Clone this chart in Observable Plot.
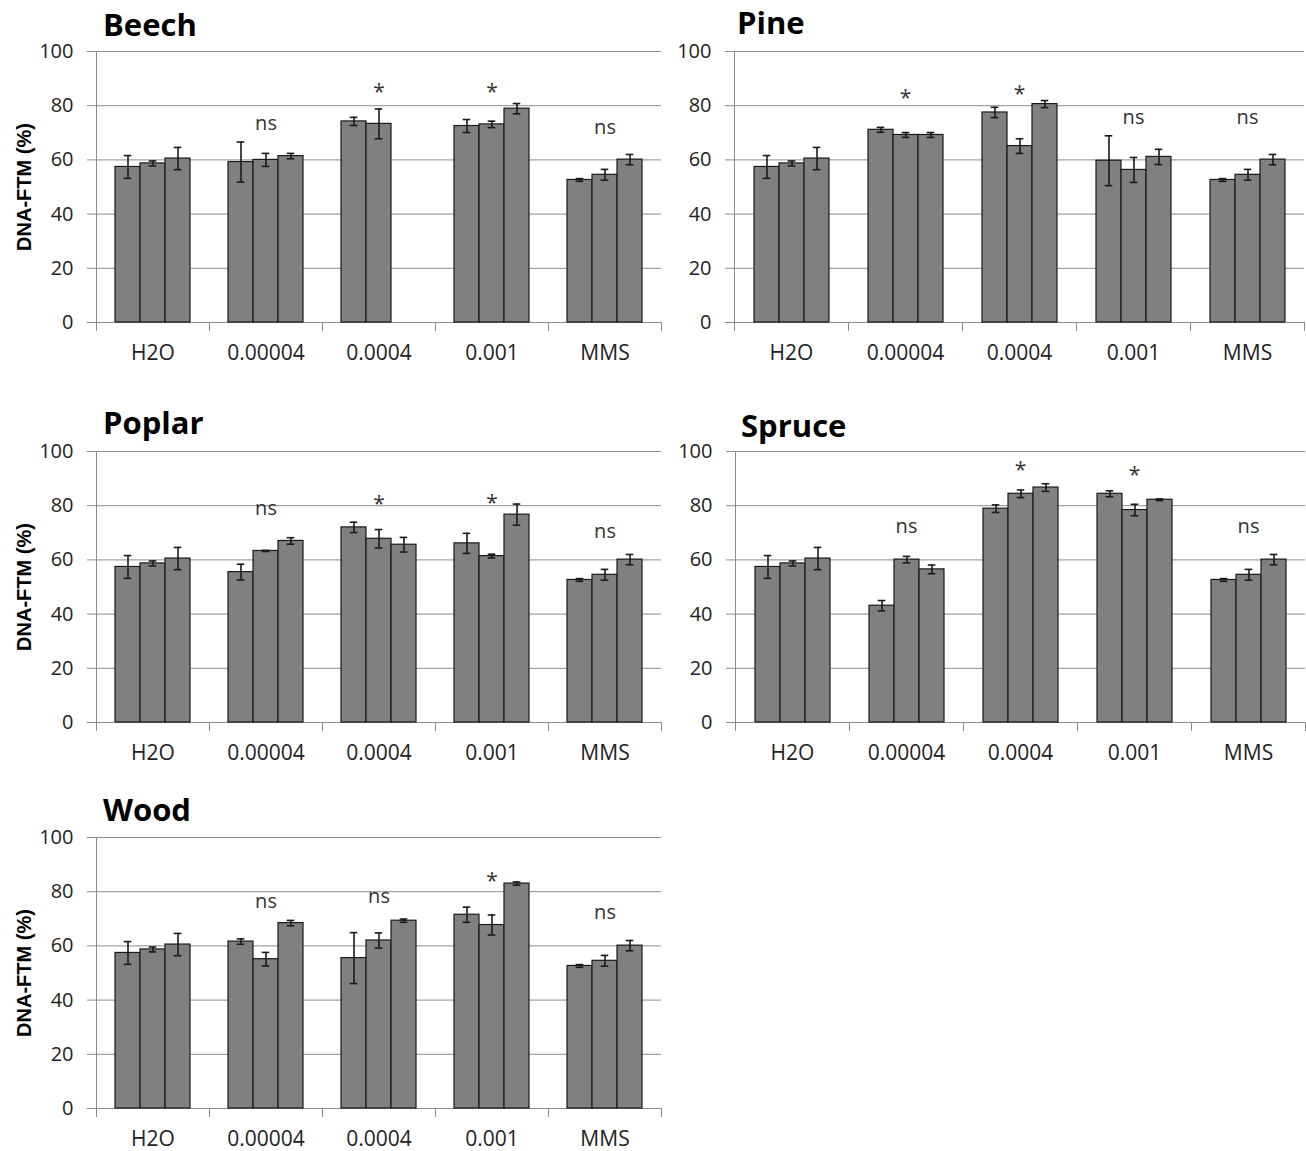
<!DOCTYPE html>
<html><head><meta charset="utf-8">
<script src="https://cdn.jsdelivr.net/npm/d3@7"></script>
<script src="https://cdn.jsdelivr.net/npm/@observablehq/plot@0.6"></script>
<style>
body{margin:0;background:#fff;}
#root{position:relative;width:1306px;height:1151px;overflow:hidden;font-family:"Open Sans",sans-serif;}
.panel{position:absolute;}
.title{position:absolute;font:700 31px/1 "Open Sans",sans-serif;color:#000;white-space:nowrap;}
.ylab{position:absolute;width:0;height:0;}
.ylab span{position:absolute;left:0;top:0;display:block;font:700 20px/1 "Liberation Sans",Arial,sans-serif;color:#000;white-space:nowrap;transform:translate(-50%,-50%) rotate(-90deg);}
</style></head><body><div id="root"></div>
<script>
// ---------- data ----------
const categories = ["H2O", "0.00004", "0.0004", "0.001", "MMS"];
const seriesIdx = [0, 1, 2];
const yTicks = [0, 20, 40, 60, 80, 100];
const yLabel = "DNA-FTM (%)";

const beechMean = [[57.4, 58.7, 60.5], [59.2, 60.0, 61.4], [74.2, 73.3, null], [72.5, 73.1, 78.9], [52.6, 54.5, 60.1]];
const beechErr  = [[4.2, 0.9, 4.1], [7.4, 2.4, 1.0], [1.5, 5.5, null], [2.4, 1.2, 1.9], [0.5, 2.0, 1.9]];
const beechSig  = [null, "ns", "*", "*", "ns"];
const beechSigY = [null, 73.4, 86.8, 86.8, 71.8];

const pineMean = [[57.4, 58.7, 60.5], [71.1, 69.2, 69.2], [77.5, 65.1, 80.6], [59.7, 56.3, 61.1], [52.6, 54.5, 60.1]];
const pineErr  = [[4.2, 0.9, 4.1], [0.9, 0.9, 0.9], [1.9, 2.7, 1.3], [9.2, 4.6, 2.8], [0.5, 2.0, 1.9]];
const pineSig  = [null, "*", "*", "ns", "ns"];
const pineSigY = [null, 84.6, 86.2, 75.6, 75.6];

const poplarMean = [[57.4, 58.7, 60.5], [55.5, 63.3, 67.0], [72.0, 67.8, 65.6], [66.1, 61.4, 76.7], [52.6, 54.5, 60.1]];
const poplarErr  = [[4.2, 0.9, 4.1], [2.9, 0.2, 1.2], [1.9, 3.4, 2.7], [3.7, 0.7, 3.9], [0.5, 2.0, 1.9]];
const poplarSig  = [null, "ns", "*", "*", "ns"];
const poplarSigY = [null, 78.9, 82.4, 82.8, 70.4];

const spruceMean = [[57.4, 58.7, 60.5], [43.1, 60.1, 56.5], [78.9, 84.4, 86.7], [84.4, 78.4, 82.2], [52.6, 54.5, 60.1]];
const spruceErr  = [[4.2, 0.9, 4.1], [1.9, 1.2, 1.6], [1.4, 1.4, 1.4], [1.1, 2.1, 0.3], [0.5, 2.0, 1.9]];
const spruceSig  = [null, "ns", "*", "*", "ns"];
const spruceSigY = [null, 72.2, 95.0, 93.2, 72.2];

const woodMean = [[57.4, 58.7, 60.5], [61.6, 55.1, 68.4], [55.5, 62.0, 69.3], [71.5, 67.7, 83.0], [52.6, 54.5, 60.1]];
const woodErr  = [[4.2, 0.9, 4.1], [1.0, 2.5, 1.0], [9.4, 2.8, 0.6], [2.8, 3.7, 0.6], [0.5, 2.0, 1.9]];
const woodSig  = [null, "ns", "ns", "*", "ns"];
const woodSigY = [null, 76.2, 78.1, 85.6, 72.2];

// ---------- layout / style ----------
const PLOT_H = 271;
const GRID = "#8c8c8c";
const INK = "#1a1a1a";

function table(mean, err) {
  const rows = [];
  categories.forEach((c, ci) => seriesIdx.forEach(s => {
    if (mean[ci][s] != null) rows.push({cat: c, s, v: mean[ci][s], e: err[ci][s]});
  }));
  return rows;
}
function sigTable(sig, sigY) {
  return categories.map((c, ci) => ({cat: c, t: sig[ci], y: sigY[ci]})).filter(d => d.t);
}

function panel(cfg) {
  const rows = table(cfg.mean, cfg.err);
  const sigs = sigTable(cfg.sig, cfg.sigY);
  const mT = cfg.plotTop - cfg.top, mB = 46;
  const chart = Plot.plot({
    width: cfg.width,
    height: mT + PLOT_H + mB,
    marginLeft: cfg.marginLeft,
    marginRight: cfg.marginRight,
    marginTop: mT,
    marginBottom: mB,
    style: {fontFamily: "'Open Sans', sans-serif", fontSize: "20px", color: "#222", background: "transparent", overflow: "visible"},
    fx: {domain: categories, padding: 0, label: null},
    x: {domain: seriesIdx, paddingInner: 0, paddingOuter: 0.716, axis: null},
    y: {domain: [0, 100], axis: null},
    marks: [
      Plot.gridY(yTicks, {stroke: GRID, strokeOpacity: 1, strokeWidth: 1}),
      Plot.frame({anchor: "left", stroke: GRID, strokeWidth: 1, facetAnchor: "left"}),
      Plot.frame({anchor: "left", stroke: GRID, strokeWidth: 1, insetTop: PLOT_H, insetBottom: -8}),
      Plot.frame({anchor: "right", stroke: GRID, strokeWidth: 1, insetTop: PLOT_H, insetBottom: -8}),
      Plot.axisY(yTicks, {anchor: "left", tickSize: 9, tickPadding: 14, stroke: GRID, fill: "#222", fontSize: 20, label: null}),
      Plot.axisFx({anchor: "bottom", tickSize: 0, tickPadding: 23, fill: "#222", fontSize: 21, label: null}),
      Plot.barY(rows, {fx: "cat", x: "s", y: "v", fill: "#808080", stroke: INK, strokeWidth: 1.2}),
      Plot.ruleX(rows, {fx: "cat", x: "s", y1: d => d.v - d.e, y2: d => d.v + d.e, stroke: INK, strokeWidth: 1.6}),
      Plot.tickY(rows, {fx: "cat", x: "s", y: d => d.v - d.e, insetLeft: 8.7, insetRight: 8.7, stroke: INK, strokeWidth: 1.6}),
      Plot.tickY(rows, {fx: "cat", x: "s", y: d => d.v + d.e, insetLeft: 8.7, insetRight: 8.7, stroke: INK, strokeWidth: 1.6}),
      Plot.text(sigs.filter(d => d.t !== "*"), {fx: "cat", y: "y", text: "t", fill: "#333", fontSize: 20}),
      Plot.text(sigs.filter(d => d.t === "*"), {fx: "cat", y: "y", text: "t", fill: "#333", fontSize: 21, dy: 5})
    ]
  });
  const wrap = document.createElement("div");
  wrap.className = "panel";
  wrap.style.left = cfg.left + "px";
  wrap.style.top = cfg.top + "px";
  wrap.appendChild(chart);
  root.appendChild(wrap);

  const t = document.createElement("div");
  t.className = "title";
  t.textContent = cfg.name;
  t.style.left = cfg.titleX + "px";
  t.style.top = (cfg.titleBaseline - 27.5) + "px";
  root.appendChild(t);

  if (cfg.ylab) {
    const yl = document.createElement("div");
    yl.className = "ylab";
    yl.style.left = "24px";
    yl.style.top = (cfg.plotTop + PLOT_H / 2) + "px";
    const sp = document.createElement("span");
    sp.textContent = yLabel;
    yl.appendChild(sp);
    root.appendChild(yl);
  }
}

const root = document.getElementById("root");
panel({name: "Beech", mean: beechMean, err: beechErr, sig: beechSig, sigY: beechSigY,
  left: 0, top: 0, width: 663, marginLeft: 96, marginRight: 2, plotTop: 51, titleX: 103, titleBaseline: 36, ylab: true});
panel({name: "Pine", mean: pineMean, err: pineErr, sig: pineSig, sigY: pineSigY,
  left: 660, top: 0, width: 646, marginLeft: 73, marginRight: 1, plotTop: 51, titleX: 737, titleBaseline: 34, ylab: false});
panel({name: "Poplar", mean: poplarMean, err: poplarErr, sig: poplarSig, sigY: poplarSigY,
  left: 0, top: 400, width: 663, marginLeft: 96, marginRight: 2, plotTop: 451, titleX: 103, titleBaseline: 434, ylab: true});
panel({name: "Spruce", mean: spruceMean, err: spruceErr, sig: spruceSig, sigY: spruceSigY,
  left: 660, top: 400, width: 646, marginLeft: 74, marginRight: 1, plotTop: 451, titleX: 741, titleBaseline: 437, ylab: false});
panel({name: "Wood", mean: woodMean, err: woodErr, sig: woodSig, sigY: woodSigY,
  left: 0, top: 786, width: 663, marginLeft: 96, marginRight: 2, plotTop: 837, titleX: 103, titleBaseline: 821, ylab: true});
</script></body></html>
